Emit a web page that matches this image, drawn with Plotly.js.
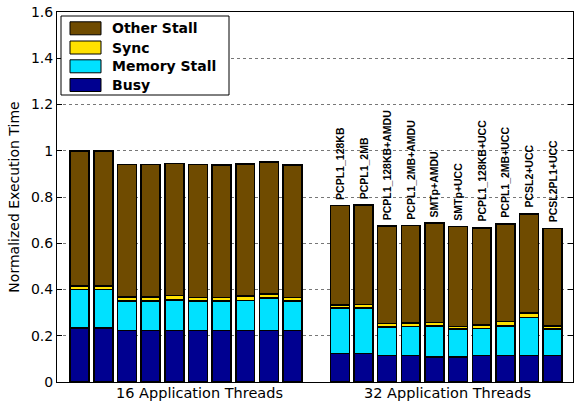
<!DOCTYPE html>
<html>
<head>
<meta charset="utf-8">
<script src="https://cdn.plot.ly/plotly-3.0.1.min.js"></script>
<style>html,body{margin:0;padding:0;background:#fff;}#chart{width:574px;height:402px;}</style>
</head>
<body>
<div id="chart"></div>
<script>
// ---- data ----
const xPositions = [1,2,3,4,5,6,7,8,9,10, 12,13,14,15,16,17,18,19,20,21];
const busy   = [0.233,0.233,0.223,0.223,0.223,0.223,0.223,0.223,0.223,0.222, 0.124,0.124,0.114,0.114,0.109,0.109,0.114,0.114,0.114,0.114];
const memory = [0.166,0.167,0.128,0.128,0.132,0.128,0.127,0.130,0.140,0.128, 0.196,0.197,0.123,0.126,0.134,0.121,0.118,0.129,0.165,0.115];
const sync   = [0.017,0.016,0.017,0.017,0.018,0.015,0.016,0.018,0.017,0.016, 0.014,0.014,0.016,0.016,0.015,0.009,0.015,0.019,0.020,0.014];
const other  = [0.584,0.584,0.572,0.572,0.571,0.574,0.572,0.572,0.572,0.572, 0.429,0.431,0.421,0.421,0.429,0.433,0.420,0.422,0.427,0.420];
const barLabels = ['','','','','','','','','','',
  'PCPL1_128KB','PCPL1_2MB','PCPL1_128KB+AMDU','PCPL1_2MB+AMDU','SMTp+AMDU',
  'SMTp+UCC','PCPL1_128KB+UCC','PCPL1_2MB+UCC','PCSL2+UCC','PCSL2PL1+UCC'];
const groupLabels = ['16 Application Threads','32 Application Threads'];
const groupLabelPos = [6.05, 16.57];
const seriesNames = ['Busy','Memory Stall','Sync','Other Stall'];
const seriesColors = ['#000090','#00E1FF','#FFE100','#6F4B00'];
const seriesValues = [busy, memory, sync, other];

// ---- traces ----
const traces = seriesValues.map((vals, i) => ({
  type: 'bar', x: xPositions, y: vals, name: seriesNames[i],
  width: 0.8,
  marker: {color: seriesColors[i], line: {color: '#000', width: 1.5}},
  hoverinfo: 'skip', showlegend: false
}));

// ---- geometry helpers (plot area in px) ----
const L = 57, R = 573, T = 12, B = 382;
const xp = px => (px - L) / (R - L);
const yp = py => (B - py) / (B - T);

const annotations = [];
xPositions.forEach((x, i) => {
  if (!barLabels[i]) return;
  const total = busy[i] + memory[i] + sync[i] + other[i];
  annotations.push({
    x: x, y: total, xref: 'x', yref: 'y', text: '<b>' + barLabels[i] + '</b>',
    textangle: -90, showarrow: false, xanchor: 'center', yanchor: 'bottom', yshift: 4,
    font: {family: 'Liberation Sans', size: 10.5, color: '#000'}
  });
});

// group labels under the axis
groupLabels.forEach((t, i) => {
  annotations.push({
    x: groupLabelPos[i], y: 0, xref: 'x', yref: 'paper', text: t,
    showarrow: false, xanchor: 'center', yanchor: 'top', yshift: -1,
    font: {family: 'DejaVu Sans', size: 14.5, color: '#000'}
  });
});

// manual legend
const shapes = [{
  type: 'rect', xref: 'paper', yref: 'paper',
  x0: xp(61), x1: xp(229), y0: yp(95), y1: yp(16),
  line: {color: '#000', width: 1}, fillcolor: '#fff', layer: 'above'
}];
const legendOrder = [3, 2, 1, 0];
const rowY = [28.3, 47.5, 66.3, 85];
legendOrder.forEach((s, r) => {
  shapes.push({
    type: 'rect', xref: 'paper', yref: 'paper',
    x0: xp(70), x1: xp(101), y0: yp(rowY[r] + 6.5), y1: yp(rowY[r] - 6.5),
    line: {color: '#000', width: 1}, fillcolor: seriesColors[s], layer: 'above'
  });
  annotations.push({
    xref: 'paper', yref: 'paper', x: xp(110), y: yp(rowY[r]),
    xanchor: 'left', yanchor: 'middle', showarrow: false, text: '<b>' + seriesNames[s] + '</b>',
    font: {family: 'DejaVu Sans', size: 14, color: '#000'}
  });
});

const layout = {
  width: 574, height: 402,
  margin: {l: L, r: 574 - R, t: T, b: 402 - B, pad: 0},
  paper_bgcolor: '#fff', plot_bgcolor: '#fff',
  barmode: 'stack', bargap: 0.2,
  font: {family: 'DejaVu Sans', color: '#000'},
  xaxis: {
    range: [0.04, 21.86], showgrid: false, zeroline: false,
    showline: true, linecolor: '#000', linewidth: 1, mirror: true,
    ticks: '', showticklabels: false
  },
  yaxis: {
    range: [0, 1.6], dtick: 0.2, tick0: 0,
    showgrid: true, gridcolor: '#777', griddash: 'dot', gridwidth: 1,
    zeroline: false, showline: true, linecolor: '#000', linewidth: 1, mirror: 'ticks',
    ticks: 'inside', ticklen: 5, tickcolor: '#000',
    tickfont: {size: 14, family: 'DejaVu Sans', color: '#000'},
    title: {text: 'Normalized Execution Time', font: {size: 14, family: 'DejaVu Sans', color: '#000'}, standoff: 8}
  },
  shapes: shapes,
  annotations: annotations,
  showlegend: false
};

Plotly.newPlot('chart', traces, layout, {staticPlot: true, displayModeBar: false});
</script>
</body>
</html>
